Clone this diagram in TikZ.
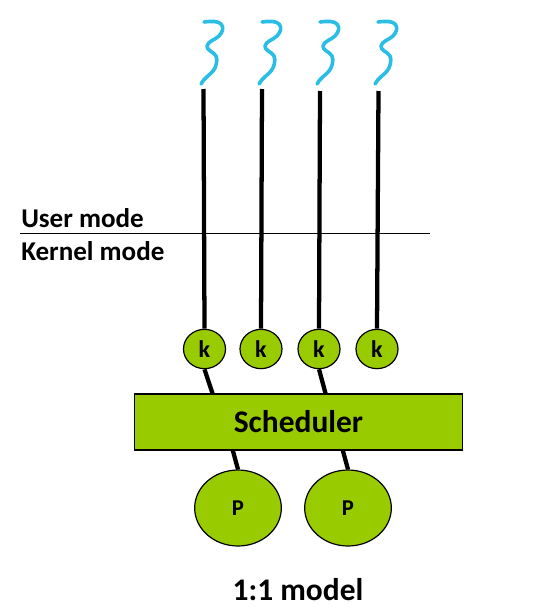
\documentclass[tikz,border=0pt]{standalone}
\usepackage{fontspec}
\setmainfont{Carlito}
\usetikzlibrary{backgrounds,shapes.geometric}
\definecolor{grn}{HTML}{99CC00}
\definecolor{wavy}{HTML}{2ABDE6}
\newcommand{\fsz}[1]{\fontsize{#1}{#1}\selectfont\bfseries}
\tikzset{
  x=0.75pt,y=-0.75pt,
  kthread/.style={ellipse,draw=black,line width=0.9pt,fill=grn,minimum width=31.5pt,minimum height=29.5pt,inner sep=0pt,font=\fsz{18}},
  proc/.style={ellipse,draw=black,line width=0.9pt,fill=grn,minimum width=65pt,minimum height=57pt,inner sep=0pt,font=\fsz{17}},
  sched/.style={rectangle,draw=black,line width=0.9pt,fill=grn,minimum width=246.5pt,minimum height=42pt,inner sep=0pt,font=\fsz{23.6}},
  label/.style={anchor=west,inner sep=0pt,font=\fsz{20.3}},
  thick line/.style={line width=3.2pt,black},
  squiggle/.style={wavy,line width=2.7pt,line cap=round,line join=round},
}
\begin{document}
\begin{tikzpicture}
\useasboundingbox (0,0) rectangle (560,614);
% nodes
\node[kthread] (k1) at (204.5,349) {k};
\node[kthread] (k2) at (261,349) {k};
\node[kthread] (k3) at (319,349) {k};
\node[kthread] (k4) at (377,349) {k};
\node[sched] (sch) at (298.5,422) {Scheduler};
\node[proc] (p1) at (238,508) {P};
\node[proc] (p2) at (348,508) {P};
\node[label] (um) at (21,218) {User mode};
\node[label] (km) at (21,251) {Kernel mode};
\node[inner sep=0pt,font=\fsz{23.6}] (title) at (298,590) {1:1 model};
% free ends
\coordinate (t1) at (203.5,89);
\coordinate (t2) at (262,89);
\coordinate (t3) at (320,91);
\coordinate (t4) at (378.5,91);
\coordinate (s1) at (212.7,394);
\coordinate (s2) at (325.7,394);
\coordinate (s3) at (232.7,450);
\coordinate (s4) at (342.7,450);
\coordinate (da) at (20,233);
\coordinate (db) at (430,233);
\begin{scope}[on background layer]
\draw[thick line] (t1) -- (k1.north);
\draw[thick line] (t2) -- (k2.north);
\draw[thick line] (t3) -- (k3.north);
\draw[thick line] (t4) -- (k4.north);
\draw[thick line] (k1.south) -- (s1);
\draw[thick line] (k3.south) -- (s2);
\draw[thick line] (s3) -- (p1.north);
\draw[thick line] (s4) -- (p2.north);
\end{scope}
\draw[black,line width=0.75pt] (da) -- (db);
% squiggles
\foreach \dx in {0,58,116,174}{
\draw[squiggle,shift={(\dx,0)}] (204,22) .. controls (212,21) and (218,21) .. (221,24)
 .. controls (224,27) and (223,32) .. (219,36)
 .. controls (215,40) and (208,41) .. (207,46)
 .. controls (206,50) and (214,52) .. (216,56)
 .. controls (218,60) and (216,68) .. (213,71)
 .. controls (210,75) and (204,78) .. (201,84);
}
\end{tikzpicture}
\end{document}
